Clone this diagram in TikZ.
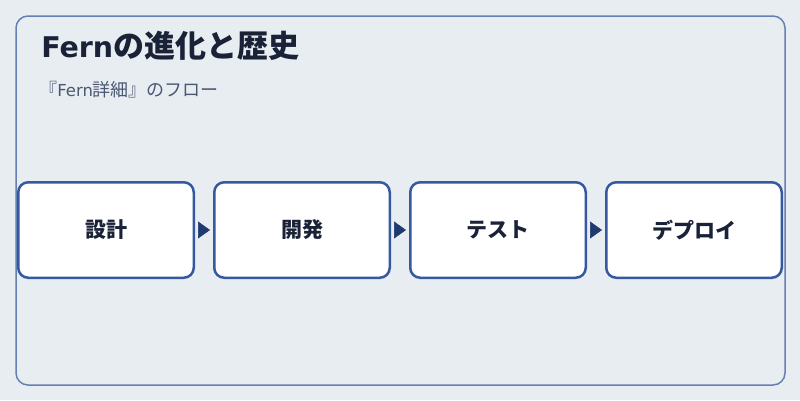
\documentclass[tikz,border=0pt]{standalone}
\usepackage{fontspec}
\newfontfamily\cjk{Noto Sans CJK JP}
\newfontfamily\latin{DejaVu Sans}
\usetikzlibrary{arrows.meta}
\definecolor{bgcol}{HTML}{E8EDF2}
\definecolor{framecol}{HTML}{6680B0}
\definecolor{boxcol}{HTML}{3558A0}
\definecolor{arrowcol}{HTML}{1F3A70}
\definecolor{titlecol}{HTML}{1A2238}
\definecolor{subcol}{HTML}{4A5872}
\tikzset{
  stepbox/.style={draw=boxcol,line width=2.5pt,fill=white,rounded corners=10pt,
    minimum width=175.5pt,minimum height=95.5pt,text=titlecol,
    font=\cjk\bfseries\fontsize{21}{25}\selectfont},
  flowarrow/.style={-{Triangle[length=12pt,width=17pt]},arrowcol,line width=.5pt,
    shorten <=3pt,shorten >=3pt}
}
\newcommand{\fernword}{{\latin Fern}}

\begin{document}
\begin{tikzpicture}[x=1pt,y=-1pt,semithick]
    \fill[bgcol] (0,0) rectangle (800,400);
    \draw[framecol,line width=1.5pt,rounded corners=12pt] (16,16) rectangle (785,385);
    \node[anchor=base west,inner sep=0,text=titlecol,font=\cjk\bfseries\fontsize{31}{36}\selectfont] (title) at (41,57.5)
      {{\fontsize{28.5}{34}\selectfont\fernword}の進化と歴史};
    \node[anchor=base west,inner sep=0,text=subcol,font=\cjk\fontsize{18}{21}\selectfont] (sub) at (39,96)
      {『{\fontsize{16.5}{19}\selectfont\fernword}詳細』のフロー};
    % steps of the flow
    \foreach \name/\txt [count=\i] in {design/設計,dev/開発,test/テスト,deploy/デプロイ}
      \node[stepbox] (\name) at ({106+196*(\i-1)},230) {\raisebox{-2pt}{\txt}};
    \draw[flowarrow] (design) -- (dev);
    \draw[flowarrow] (dev) -- (test);
    \draw[flowarrow] (test) -- (deploy);
\end{tikzpicture}
\end{document}
